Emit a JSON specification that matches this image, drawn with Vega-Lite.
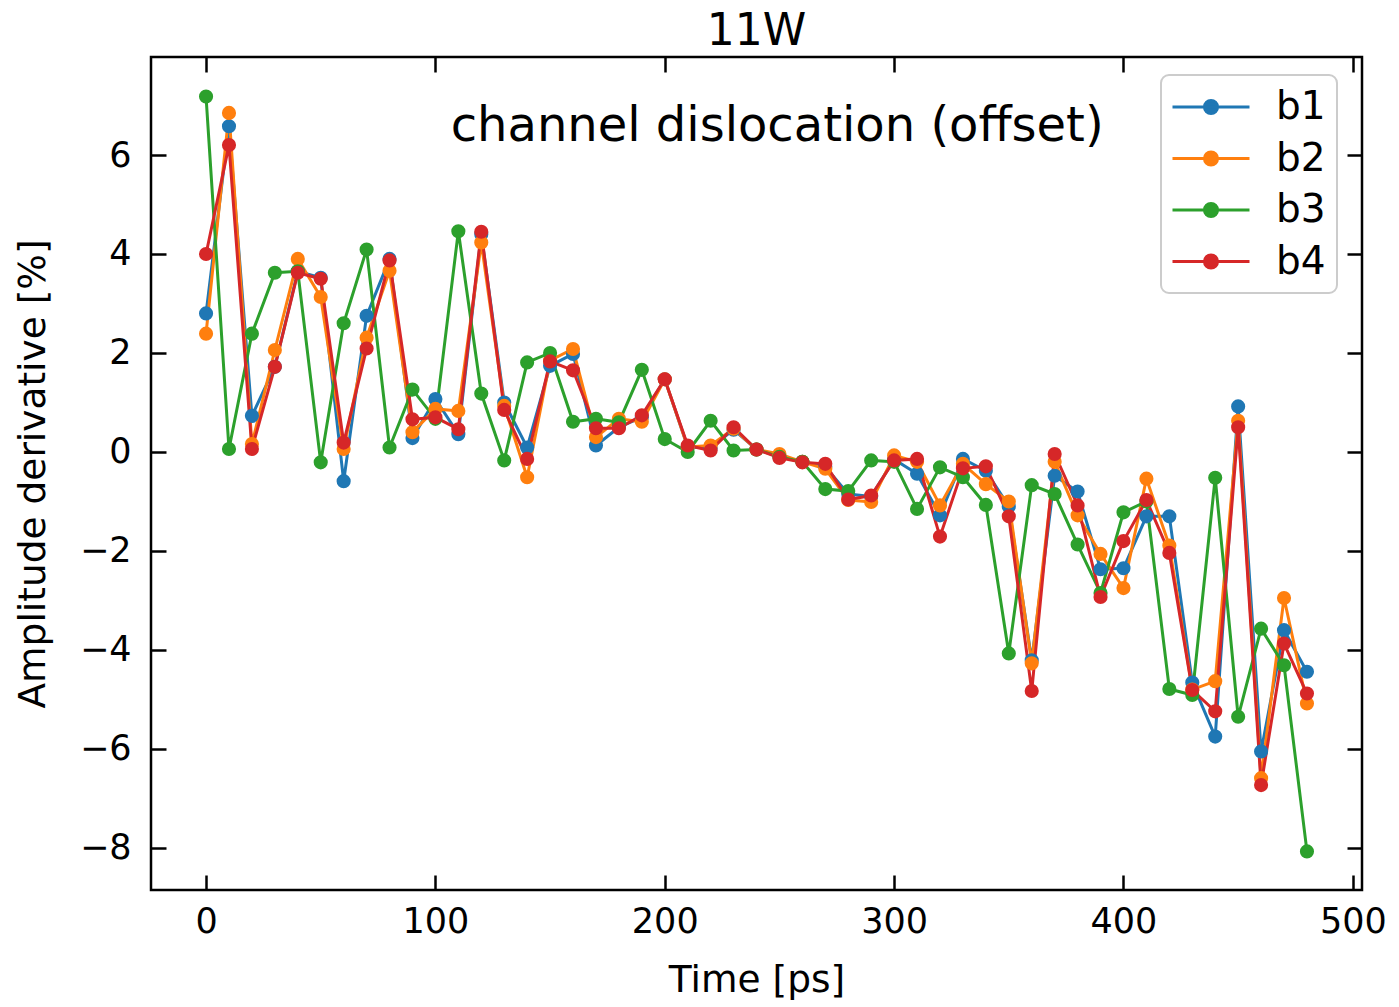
{
  "$schema": "https://vega.github.io/schema/vega-lite/v6.json",
  "width": 1211,
  "height": 833,
  "autosize": {"type": "none"},
  "padding": {"left": 151, "top": 57, "right": 37, "bottom": 117},
  "background": "white",
  "config": {"view": {"stroke": "#000000", "strokeWidth": 2.5}, "font": "DejaVu Sans"},
  "datasets": {
    "main": [
      {"t":0,"series":"b1","v":2.80},{"t":0,"series":"b2","v":2.39},{"t":0,"series":"b3","v":7.18},{"t":0,"series":"b4","v":4.00},
      {"t":10,"series":"b1","v":6.58},{"t":10,"series":"b2","v":6.85},{"t":10,"series":"b3","v":0.06},{"t":10,"series":"b4","v":6.20},
      {"t":20,"series":"b1","v":0.73},{"t":20,"series":"b2","v":0.16},{"t":20,"series":"b3","v":2.39},{"t":20,"series":"b4","v":0.06},
      {"t":30,"series":"b1","v":1.72},{"t":30,"series":"b2","v":2.06},{"t":30,"series":"b3","v":3.62},{"t":30,"series":"b4","v":1.72},
      {"t":40,"series":"b1","v":3.65},{"t":40,"series":"b2","v":3.90},{"t":40,"series":"b3","v":3.65},{"t":40,"series":"b4","v":3.62},
      {"t":50,"series":"b1","v":3.52},{"t":50,"series":"b2","v":3.13},{"t":50,"series":"b3","v":-0.21},{"t":50,"series":"b4","v":3.50},
      {"t":60,"series":"b1","v":-0.59},{"t":60,"series":"b2","v":0.06},{"t":60,"series":"b3","v":2.60},{"t":60,"series":"b4","v":0.19},
      {"t":70,"series":"b1","v":2.75},{"t":70,"series":"b2","v":2.31},{"t":70,"series":"b3","v":4.09},{"t":70,"series":"b4","v":2.09},
      {"t":80,"series":"b1","v":3.90},{"t":80,"series":"b2","v":3.66},{"t":80,"series":"b3","v":0.09},{"t":80,"series":"b4","v":3.87},
      {"t":90,"series":"b1","v":0.28},{"t":90,"series":"b2","v":0.40},{"t":90,"series":"b3","v":1.26},{"t":90,"series":"b4","v":0.66},
      {"t":100,"series":"b1","v":1.07},{"t":100,"series":"b2","v":0.87},{"t":100,"series":"b3","v":0.67},{"t":100,"series":"b4","v":0.70},
      {"t":110,"series":"b1","v":0.36},{"t":110,"series":"b2","v":0.83},{"t":110,"series":"b3","v":4.46},{"t":110,"series":"b4","v":0.46},
      {"t":120,"series":"b1","v":4.40},{"t":120,"series":"b2","v":4.23},{"t":120,"series":"b3","v":1.18},{"t":120,"series":"b4","v":4.45},
      {"t":130,"series":"b1","v":1.00},{"t":130,"series":"b2","v":0.93},{"t":130,"series":"b3","v":-0.17},{"t":130,"series":"b4","v":0.85},
      {"t":140,"series":"b1","v":0.09},{"t":140,"series":"b2","v":-0.51},{"t":140,"series":"b3","v":1.81},{"t":140,"series":"b4","v":-0.14},
      {"t":150,"series":"b1","v":1.74},{"t":150,"series":"b2","v":1.85},{"t":150,"series":"b3","v":2.00},{"t":150,"series":"b4","v":1.83},
      {"t":160,"series":"b1","v":1.98},{"t":160,"series":"b2","v":2.08},{"t":160,"series":"b3","v":0.61},{"t":160,"series":"b4","v":1.65},
      {"t":170,"series":"b1","v":0.13},{"t":170,"series":"b2","v":0.30},{"t":170,"series":"b3","v":0.67},{"t":170,"series":"b4","v":0.48},
      {"t":180,"series":"b1","v":0.50},{"t":180,"series":"b2","v":0.67},{"t":180,"series":"b3","v":0.60},{"t":180,"series":"b4","v":0.48},
      {"t":190,"series":"b1","v":0.70},{"t":190,"series":"b2","v":0.61},{"t":190,"series":"b3","v":1.66},{"t":190,"series":"b4","v":0.74},
      {"t":200,"series":"b1","v":1.47},{"t":200,"series":"b2","v":1.47},{"t":200,"series":"b3","v":0.26},{"t":200,"series":"b4","v":1.47},
      {"t":210,"series":"b1","v":0.10},{"t":210,"series":"b2","v":0.10},{"t":210,"series":"b3","v":0.00},{"t":210,"series":"b4","v":0.13},
      {"t":220,"series":"b1","v":0.08},{"t":220,"series":"b2","v":0.13},{"t":220,"series":"b3","v":0.63},{"t":220,"series":"b4","v":0.03},
      {"t":230,"series":"b1","v":0.45},{"t":230,"series":"b2","v":0.47},{"t":230,"series":"b3","v":0.03},{"t":230,"series":"b4","v":0.50},
      {"t":240,"series":"b1","v":0.05},{"t":240,"series":"b2","v":0.05},{"t":240,"series":"b3","v":0.05},{"t":240,"series":"b4","v":0.05},
      {"t":250,"series":"b1","v":-0.08},{"t":250,"series":"b2","v":-0.04},{"t":250,"series":"b3","v":-0.10},{"t":250,"series":"b4","v":-0.12},
      {"t":260,"series":"b1","v":-0.20},{"t":260,"series":"b2","v":-0.20},{"t":260,"series":"b3","v":-0.20},{"t":260,"series":"b4","v":-0.21},
      {"t":270,"series":"b1","v":-0.30},{"t":270,"series":"b2","v":-0.34},{"t":270,"series":"b3","v":-0.75},{"t":270,"series":"b4","v":-0.24},
      {"t":280,"series":"b1","v":-0.85},{"t":280,"series":"b2","v":-0.97},{"t":280,"series":"b3","v":-0.79},{"t":280,"series":"b4","v":-0.96},
      {"t":290,"series":"b1","v":-0.90},{"t":290,"series":"b2","v":-1.01},{"t":290,"series":"b3","v":-0.17},{"t":290,"series":"b4","v":-0.88},
      {"t":300,"series":"b1","v":-0.15},{"t":300,"series":"b2","v":-0.07},{"t":300,"series":"b3","v":-0.20},{"t":300,"series":"b4","v":-0.17},
      {"t":310,"series":"b1","v":-0.44},{"t":310,"series":"b2","v":-0.20},{"t":310,"series":"b3","v":-1.15},{"t":310,"series":"b4","v":-0.14},
      {"t":320,"series":"b1","v":-1.28},{"t":320,"series":"b2","v":-1.08},{"t":320,"series":"b3","v":-0.31},{"t":320,"series":"b4","v":-1.71},
      {"t":330,"series":"b1","v":-0.14},{"t":330,"series":"b2","v":-0.24},{"t":330,"series":"b3","v":-0.51},{"t":330,"series":"b4","v":-0.33},
      {"t":340,"series":"b1","v":-0.38},{"t":340,"series":"b2","v":-0.65},{"t":340,"series":"b3","v":-1.07},{"t":340,"series":"b4","v":-0.29},
      {"t":350,"series":"b1","v":-1.10},{"t":350,"series":"b2","v":-1.00},{"t":350,"series":"b3","v":-4.07},{"t":350,"series":"b4","v":-1.30},
      {"t":360,"series":"b1","v":-4.21},{"t":360,"series":"b2","v":-4.27},{"t":360,"series":"b3","v":-0.67},{"t":360,"series":"b4","v":-4.83},
      {"t":370,"series":"b1","v":-0.48},{"t":370,"series":"b2","v":-0.20},{"t":370,"series":"b3","v":-0.85},{"t":370,"series":"b4","v":-0.04},
      {"t":380,"series":"b1","v":-0.80},{"t":380,"series":"b2","v":-1.28},{"t":380,"series":"b3","v":-1.87},{"t":380,"series":"b4","v":-1.08},
      {"t":390,"series":"b1","v":-2.37},{"t":390,"series":"b2","v":-2.06},{"t":390,"series":"b3","v":-2.85},{"t":390,"series":"b4","v":-2.93},
      {"t":400,"series":"b1","v":-2.35},{"t":400,"series":"b2","v":-2.75},{"t":400,"series":"b3","v":-1.22},{"t":400,"series":"b4","v":-1.80},
      {"t":410,"series":"b1","v":-1.30},{"t":410,"series":"b2","v":-0.54},{"t":410,"series":"b3","v":-1.00},{"t":410,"series":"b4","v":-0.97},
      {"t":420,"series":"b1","v":-1.30},{"t":420,"series":"b2","v":-1.89},{"t":420,"series":"b3","v":-4.79},{"t":420,"series":"b4","v":-2.04},
      {"t":430,"series":"b1","v":-4.66},{"t":430,"series":"b2","v":-4.80},{"t":430,"series":"b3","v":-4.91},{"t":430,"series":"b4","v":-4.81},
      {"t":440,"series":"b1","v":-5.75},{"t":440,"series":"b2","v":-4.63},{"t":440,"series":"b3","v":-0.52},{"t":440,"series":"b4","v":-5.24},
      {"t":450,"series":"b1","v":0.92},{"t":450,"series":"b2","v":0.63},{"t":450,"series":"b3","v":-5.35},{"t":450,"series":"b4","v":0.50},
      {"t":460,"series":"b1","v":-6.05},{"t":460,"series":"b2","v":-6.59},{"t":460,"series":"b3","v":-3.57},{"t":460,"series":"b4","v":-6.73},
      {"t":470,"series":"b1","v":-3.60},{"t":470,"series":"b2","v":-2.95},{"t":470,"series":"b3","v":-4.31},{"t":470,"series":"b4","v":-3.87},
      {"t":480,"series":"b1","v":-4.44},{"t":480,"series":"b2","v":-5.08},{"t":480,"series":"b3","v":-8.07},{"t":480,"series":"b4","v":-4.88}
    ],
    "note": [{"t": 249, "v": 6.29, "label": "channel dislocation (offset)"}],
    "heading": [{"t": 240, "v": 8.22, "label": "11W"}]
  },
  "layer": [
    {
      "data": {"name": "main"},
      "mark": {"type": "line", "strokeWidth": 3},
      "encoding": {
        "x": {"field": "t", "type": "quantitative",
          "scale": {"domain": [-24, 504], "nice": false, "zero": false},
          "axis": {"orient": "bottom", "title": "Time [ps]", "titleFontSize": 37.5, "titleFont": "DejaVu Sans", "titleFontWeight": "normal", "titleColor": "#000000", "titlePadding": 22,
            "labelFontSize": 35, "labelFont": "DejaVu Sans", "labelColor": "#000000", "labelPadding": 29, "labelFlush": false, "labelOverlap": false,
            "tickSize": -15, "tickWidth": 2.5, "tickColor": "#000000", "domain": false, "grid": false, "values": [0, 100, 200, 300, 400, 500]}},
        "y": {"field": "v", "type": "quantitative",
          "scale": {"domain": [-8.85, 7.98], "nice": false, "zero": false},
          "axis": {"orient": "left", "title": "Amplitude derivative [%]", "titleFontSize": 37.5, "titleFont": "DejaVu Sans", "titleFontWeight": "normal", "titleColor": "#000000", "titlePadding": 27,
            "labelFontSize": 35, "labelFont": "DejaVu Sans", "labelColor": "#000000", "labelPadding": 35, "labelFlush": false, "labelOverlap": false,
            "tickSize": -15, "tickWidth": 2.5, "tickColor": "#000000", "domain": false, "grid": false, "values": [-8, -6, -4, -2, 0, 2, 4, 6]}},
        "color": {"field": "series", "type": "nominal",
          "scale": {"domain": ["b1", "b2", "b3", "b4"], "range": ["#1f77b4", "#ff7f0e", "#2ca02c", "#d62728"]},
          "legend": {"title": null, "orient": "none", "legendX": 1010, "legendY": 18,
            "symbolType": "M-2,0H2M-0.34,0A0.34,0.34,0,1,0,0.34,0A0.34,0.34,0,1,0,-0.34,0",
            "symbolSize": 1482, "symbolStrokeWidth": 3, "symbolOffset": 18, "labelFontSize": 39, "labelFont": "DejaVu Sans", "labelColor": "#000000",
            "labelOffset": 44, "rowPadding": 10.5, "padding": 11, "fillColor": "#ffffff", "strokeColor": "#cccccc", "cornerRadius": 8,
            "encode": {"legend": {"update": {"strokeWidth": {"value": 2}}}, "symbols": {"update": {"fill": {"signal": "scale('color', datum.value)"}, "stroke": {"signal": "scale('color', datum.value)"}, "opacity": {"value": 1}}}}}
        }
      }
    },
    {
      "data": {"name": "main"},
      "mark": {"type": "point", "filled": true, "size": 200, "opacity": 1},
      "encoding": {
        "x": {"field": "t", "type": "quantitative", "axis": null},
        "y": {"field": "v", "type": "quantitative", "axis": null},
        "color": {"field": "series", "type": "nominal"}
      }
    },
    {
      "data": {"name": "note"},
      "mark": {"type": "text", "fontSize": 48, "font": "DejaVu Sans", "color": "#000000", "align": "center", "baseline": "alphabetic"},
      "encoding": {
        "x": {"field": "t", "type": "quantitative", "axis": null},
        "y": {"field": "v", "type": "quantitative", "axis": null},
        "text": {"field": "label"}
      }
    },
    {
      "data": {"name": "heading"},
      "mark": {"type": "text", "fontSize": 44, "font": "DejaVu Sans", "color": "#000000", "align": "center", "baseline": "alphabetic", "clip": false},
      "encoding": {
        "x": {"field": "t", "type": "quantitative", "axis": null},
        "y": {"field": "v", "type": "quantitative", "axis": null},
        "text": {"field": "label"}
      }
    },
    {
      "data": {"name": "main"},
      "mark": {"type": "point", "opacity": 0},
      "encoding": {
        "x": {"field": "t", "type": "quantitative",
          "axis": {"orient": "top", "title": null, "labels": false, "tickSize": -15, "tickWidth": 2.5, "tickColor": "#000000", "domain": false, "grid": false, "values": [0, 100, 200, 300, 400, 500]}},
        "y": {"field": "v", "type": "quantitative",
          "axis": {"orient": "right", "title": null, "labels": false, "tickSize": -15, "tickWidth": 2.5, "tickColor": "#000000", "domain": false, "grid": false, "values": [-8, -6, -4, -2, 0, 2, 4, 6]}}
      }
    }
  ],
  "resolve": {"axis": {"x": "independent", "y": "independent"}}
}
